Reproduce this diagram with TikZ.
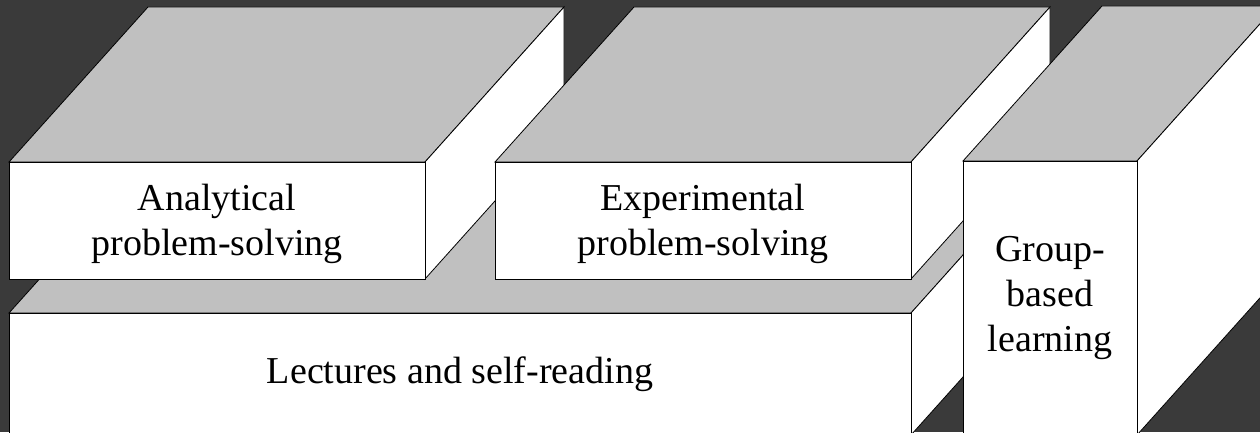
\documentclass[tikz,border=0pt]{standalone}
\usepackage{fontspec}
\setmainfont{Liberation Serif}
\definecolor{bgdark}{RGB}{58,58,58}
\definecolor{topgray}{RGB}{192,192,192}
\tikzset{
  face/.style={draw=black, line width=0.8pt, line join=miter, fill=white},
  topface/.style={face, fill=topgray},
  boxlabel/.style={font=\fontsize{38}{45}\selectfont, align=center, text=black, inner sep=0pt}
}
% #1,#2 = lower-left of front face, #3,#4 = upper-right of front face, #5 name, #6 text, #7 label shift
\newcommand\drawcuboid[7]{%
  \draw[topface] (#1,#4) -- ({#1+139},{#4+155}) -- ({#3+139},{#4+155}) -- (#3,#4) -- cycle;
  \draw[face] (#3,#2) -- ({#3+139},{#2+155}) -- ({#3+139},{#4+155}) -- (#3,#4) -- cycle;
  \draw[face] (#1,#2) rectangle (#3,#4);
  \node[boxlabel, yshift=#7] (#5) at ({(#1+#3)/2},{(#2+#4)/2}) {#6};
}
\begin{document}
\begin{tikzpicture}[x=1pt,y=1pt]
  \useasboundingbox (0,0) rectangle (1260,432);
  \clip (0,0) rectangle (1260,432);
  \fill[bgdark] (0,0) rectangle (1260,432);
  \drawcuboid{9}{-3}{911}{119}{lectures}{Lectures and self-reading}{0pt}
  \drawcuboid{9}{153}{425}{270}{analytical}{Analytical\\problem-solving}{-3pt}
  \drawcuboid{495}{153}{911}{270}{experimental}{Experimental\\problem-solving}{-3pt}
  \drawcuboid{963}{-3}{1137}{271}{group}{Group-\\based\\learning}{0pt}
\end{tikzpicture}
\end{document}
